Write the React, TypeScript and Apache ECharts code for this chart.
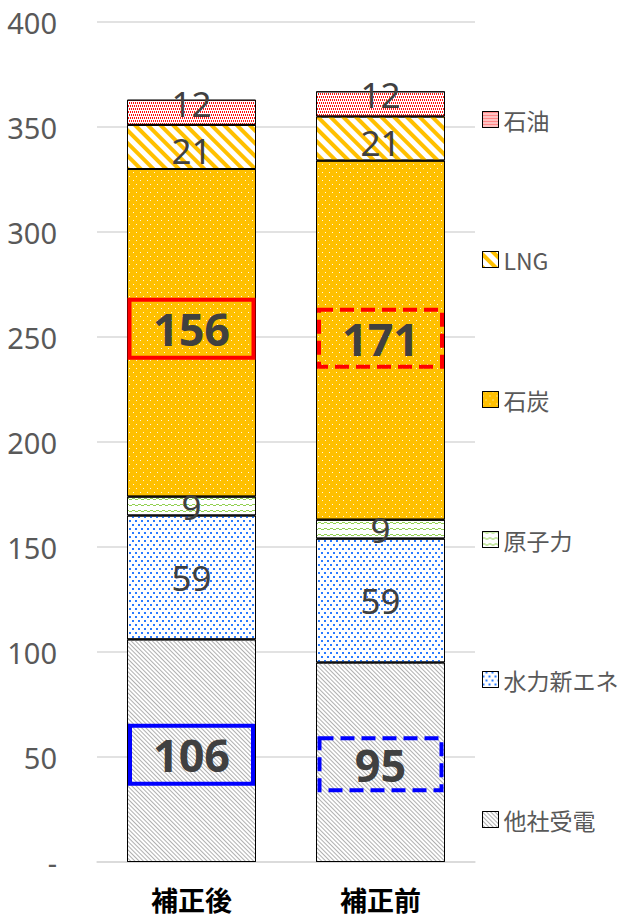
import React, { useEffect, useRef } from "react";
import * as echarts from "echarts";

const categories = ["補正後", "補正前"];
const seriesNames = ["他社受電", "水力新エネ", "原子力", "石炭", "LNG", "石油"];
const tashaJuden = [106, 95];
const suiryoku = [59, 59];
const genshiryoku = [9, 9];
const sekitan = [156, 171];
const lng = [21, 21];
const sekiyu = [12, 12];
const yTicks = { min: 0, max: 400, interval: 50 };

const FONT = "'Noto Sans CJK JP', 'Noto Sans', sans-serif";
const NUM_FONT = "'Noto Sans', 'Noto Sans CJK JP', sans-serif";
const LABEL_COLOR = "#404040";

export default function App() {
  const ref = useRef<HTMLDivElement>(null);
  useEffect(() => {
    document.body.style.margin = "0";
    const chart = echarts.init(ref.current!, null, { renderer: "svg" });

    const baseLabel = {
      show: true,
      position: "inside",
      fontFamily: NUM_FONT,
      fontSize: 35,
      lineHeight: 35,
      color: LABEL_COLOR,
    };
    const boxLabel = (color: string, dashed: boolean, w: number, h: number, dy: number) => ({
      show: true,
      position: "inside",
      fontFamily: NUM_FONT,
      fontSize: 45,
      fontWeight: "bold",
      color: LABEL_COLOR,
      borderColor: color,
      borderWidth: 4,
      borderType: dashed ? [14, 7] : "solid",
      width: w,
      height: h,
      align: "center",
      verticalAlign: "middle",
      lineHeight: h,
      offset: [0, dy],
    });

    const mk = (
      name: string,
      values: number[],
      color: string,
      decal: any,
      labelOverrides?: any[],
      extraLabel?: any
    ) => ({
      name,
      type: "bar",
      stack: "total",
      barWidth: 129,
      itemStyle: { color, borderColor: "#000", borderWidth: 1, decal },
      label: { ...baseLabel, ...(extraLabel || {}) },
      data: values.map((v, i) =>
        labelOverrides && labelOverrides[i] ? { value: v, label: labelOverrides[i] } : v
      ),
    });

    const series = [
      mk(
        seriesNames[0],
        tashaJuden,
        "#ffffff",
        {
          color: "#b0b0b0",
          dashArrayX: [1, 0],
          dashArrayY: [1, 2],
          rotation: Math.PI / 4,
          symbol: "rect",
        },
        [boxLabel("#0000ff", false, 123, 58, 4), boxLabel("#0000ff", true, 122, 52, 2)]
      ),
      mk(seriesNames[1], suiryoku, "#ffffff", {
        color: "#2a7bff",
        symbol: "rect",
        symbolSize: 1,
        dashArrayX: [[2, 4], [0, 3, 2, 1]],
        dashArrayY: [2, 2],
      }),
      mk(seriesNames[2], genshiryoku, "#ffffff", {
        color: "#92d050",
        symbol: "rect",
        symbolSize: 1,
        dashArrayX: [[3, 3], [0, 3, 3, 0]],
        dashArrayY: [1, 0, 1, 4],
      }),
      mk(
        seriesNames[3],
        sekitan,
        "#ffc000",
        {
          color: "rgba(255,255,255,0.9)",
          symbol: "rect",
          symbolSize: 1,
          dashArrayX: [[1, 6], [0, 3, 1, 3]],
          dashArrayY: [1, 3],
        },
        [boxLabel("#ff0000", false, 124, 58, -4), boxLabel("#ff0000", true, 123, 57, -2)]
      ),
      mk(
        seriesNames[4],
        lng,
        "#ffffff",
        {
          color: "#ffc000",
          symbol: "rect",
          dashArrayX: [1, 0],
          dashArrayY: [4, 5],
          rotation: Math.PI / 4,
        },
        undefined,
        { offset: [0, 4] }
      ),
      mk(
        seriesNames[5],
        sekiyu,
        "#ffffff",
        {
          color: "#ff1010",
          symbol: "rect",
          symbolSize: 1,
          dashArrayX: [[1, 1], [0, 1, 1, 0]],
          dashArrayY: [2, 1],
        },
        undefined,
        { offset: [0, -9] }
      ),
    ];

    chart.setOption({
      animation: false,
      textStyle: { fontFamily: FONT },
      grid: { left: 97, right: 149, top: 22, bottom: 56 },
      legend: {
        orient: "vertical",
        left: 477,
        top: 103,
        icon: "rect",
        itemWidth: 16,
        itemHeight: 16,
        itemGap: 117,
        data: [...seriesNames].reverse(),
        textStyle: { fontFamily: FONT, fontSize: 23, color: "#595959", lineHeight: 23 },
        itemStyle: { borderColor: "#000", borderWidth: 1 },
      },
      xAxis: {
        type: "category",
        data: categories,
        axisTick: { show: false },
        axisLine: { lineStyle: { color: "#d9d9d9", width: 1.5 } },
        axisLabel: {
          fontFamily: FONT,
          fontSize: 27,
          fontWeight: "bold",
          color: "#000",
          margin: 24,
        },
      },
      yAxis: {
        type: "value",
        min: yTicks.min,
        max: yTicks.max,
        interval: yTicks.interval,
        axisLine: { show: false },
        axisTick: { show: false },
        splitLine: { lineStyle: { color: "#d9d9d9", width: 1.5 } },
        axisLabel: {
          fontFamily: NUM_FONT,
          fontSize: 29,
          color: "#595959",
          margin: 40,
          formatter: (v: number) => (v === 0 ? "-" : String(v)),
        },
      },
      series,
    });
    return () => chart.dispose();
  }, []);
  return <div ref={ref} style={{ width: 624, height: 918 }} />;
}
